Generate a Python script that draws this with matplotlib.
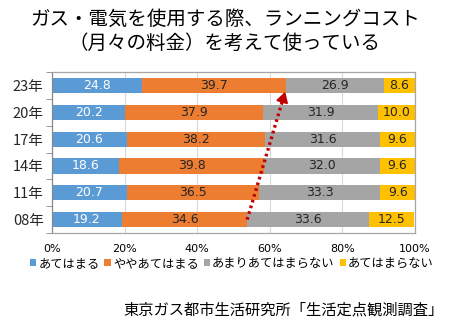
import matplotlib.pyplot as plt
import numpy as np

years = ["08年", "11年", "14年", "17年", "20年", "23年"]
series = ["あてはまる", "ややあてはまる", "あまりあてはまらない", "あてはまらない"]
agree = [19.2, 20.7, 18.6, 20.6, 20.2, 24.8]
somewhat = [34.6, 36.5, 39.8, 38.2, 37.9, 39.7]
not_much = [33.6, 33.3, 32.0, 31.6, 31.9, 26.9]
disagree = [12.5, 9.6, 9.6, 9.6, 10.0, 8.6]
colors = ["#5B9BD5", "#ED7D31", "#A5A5A5", "#FFC000"]
label_colors = ["white", "#262626", "#262626", "#262626"]

JP = ["Noto Sans CJK JP", "DejaVu Sans"]
NUM = ["DejaVu Sans", "Noto Sans CJK JP"]

fig = plt.figure(figsize=(4.5, 3.31), dpi=100)
ax = fig.add_axes([0.1156, 0.296, 0.806, 0.486])

y = np.arange(len(years))
left = np.zeros(len(years))
for vals, c, lc, name in zip([agree, somewhat, not_much, disagree], colors, label_colors, series):
    vals = np.array(vals)
    ax.barh(y, vals, left=left, height=0.56, color=c, label=name, zorder=2)
    for yi, l, v in zip(y, left, vals):
        ax.text(l + v / 2, yi, f"{v:.1f}", ha="center", va="center",
                color=lc, fontsize=9, family=NUM, zorder=3)
    left += vals

ax.set_xlim(0, 100)
ax.set_ylim(-0.5, len(years) - 0.5)
ax.set_xticks(np.arange(0, 101, 20))
ax.set_xticklabels([f"{t}%" for t in range(0, 101, 20)], family=NUM, fontsize=8)
ax.set_yticks(y)
ax.set_yticklabels(years, family=JP, fontsize=10.5, color="#262626")
ax.set_yticks(np.arange(-0.5, len(years)), minor=True)
ax.tick_params(axis="y", which="major", length=0, pad=6)
ax.tick_params(axis="y", which="minor", length=4, color="#888888", direction="out")
ax.tick_params(axis="x", length=0, pad=8)
ax.grid(axis="x", color="#D9D9D9", linewidth=0.8, zorder=0)
for s in ax.spines.values():
    s.set_color("#A6A6A6")
    s.set_linewidth(0.9)
ax.spines["left"].set_color("#888888")

# trend from the 08 boundary up to the 23 boundary
x0 = agree[0] + somewhat[0]
x1 = agree[-1] + somewhat[-1]
y0, y1 = 0.0, len(years) - 1 - 0.13
ax.plot([x0, x0 + (x1 - x0) * 0.9], [y0, y0 + (y1 - y0) * 0.9], color="#C00000",
        linewidth=2.4, linestyle=(0, (0.8, 1.0)), zorder=4)
ax.annotate("", xy=(x1, y1), xytext=(x0 + (x1 - x0) * 0.88, y0 + (y1 - y0) * 0.88),
            arrowprops=dict(arrowstyle="-|>,head_length=0.6,head_width=0.35",
                            color="#C00000", lw=1.5), zorder=5)

fig.legend(loc="center", bbox_to_anchor=(0.515, 0.205), ncol=4, frameon=False,
           prop={"family": JP, "size": 8.8}, handlelength=0.55, handleheight=0.55,
           handletextpad=0.15, columnspacing=0.4, borderpad=0)

fig.text(0.5, 0.94, "ガス・電気を使用する際、ランニングコスト", ha="center", va="center",
         fontsize=14, family=JP)
fig.text(0.5, 0.868, "（月々の料金）を考えて使っている", ha="center", va="center",
         fontsize=14, family=JP)
fig.text(0.985, 0.063, "東京ガス都市生活研究所「生活定点観測調査」", ha="right", va="center",
         fontsize=11, family=JP)

fig.savefig("out.png", dpi=100)
